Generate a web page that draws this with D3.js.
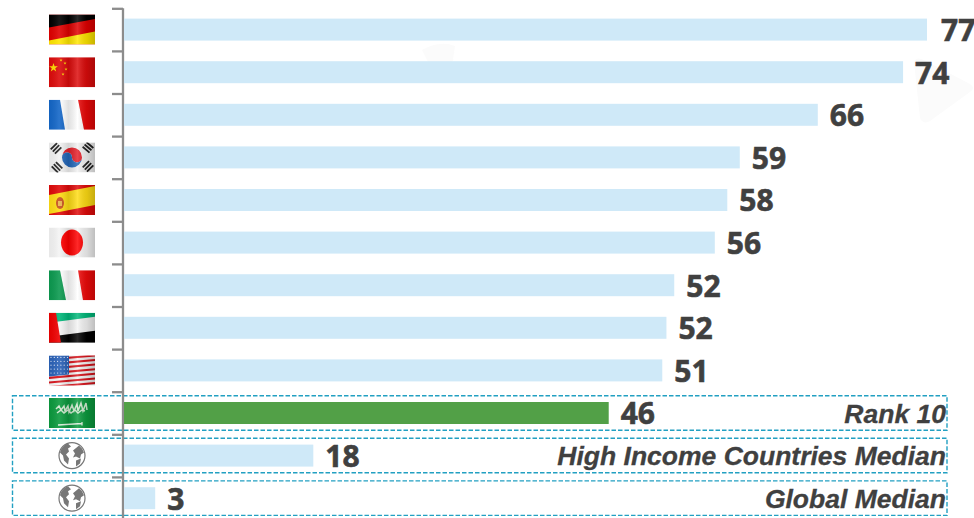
<!DOCTYPE html>
<html><head><meta charset="utf-8">
<script src="https://cdn.jsdelivr.net/npm/d3@7"></script>
<style>html,body{margin:0;padding:0;background:#fff;overflow:hidden}svg{display:block}</style>
</head><body><svg id="c" width="974" height="518"></svg>
<script>
const categories = ["Germany","China","France","South Korea","Spain","Japan","Italy","UAE","United States","Saudi Arabia","High Income Countries Median","Global Median"];
const barValues = [77.2,74.9,66.7,59.2,58.0,56.8,52.9,52.15,51.75,46.6,18.2,3.0];
const valueLabels = [77,74,66,59,58,56,52,52,51,46,18,3];
const highlighted = ["Saudi Arabia","High Income Countries Median","Global Median"];
const rowNotes = {"Saudi Arabia":"Rank 10","High Income Countries Median":"High Income Countries Median","Global Median":"Global Median"};
const flagCodes = ["de","cn","fr","kr","es","jp","it","ae","us","sa","globe","globe"];

const svg = d3.select("#c");
const defs = svg.append("defs");
const x = d3.scaleLinear().domain([0,77.2]).range([124,927]);
const y = d3.scaleBand().domain(categories).range([8.3,519.5]).paddingInner(0.484).paddingOuter(0.242);
const rowCentre = c => y(c)+y.bandwidth()/2;
const idx = d3.scaleLinear().domain([0,12]).range([8.3,519.5]);

const g = defs.append("linearGradient").attr("id","sheen");
[[0,"#000",.05],[.22,"#fff",.1],[.42,"#000",.12],[.62,"#fff",.16],[.82,"#000",.1],[1,"#000",.22]].forEach(s=>
  g.append("stop").attr("offset",s[0]).attr("stop-color",s[1]).attr("stop-opacity",s[2]));
defs.append("clipPath").attr("id","fc").append("rect").attr("width",46).attr("height",30);

["M914 62 Q916 56 924 60 L970 84 Q976 88 970 92 L930 121 Q923 125 920 118 Z",
 "M422 50 Q440 40 455 46 L452 66 L430 66 Z"].forEach(d=>
  svg.append("path").attr("d",d).attr("fill","#fbfbfb"));

svg.append("g").selectAll("rect").data(highlighted).join("rect")
  .attr("x",12.5).attr("width",934.5)
  .attr("y",d=>rowCentre(d)-17.3).attr("height",34.5)
  .attr("fill","none").attr("stroke","#22a0c2").attr("stroke-width",1.4).attr("stroke-dasharray","4.5 2");

const axis = d3.axisLeft(idx).tickValues(d3.range(0,12)).tickFormat("").tickSize(11).tickSizeOuter(0);
const ag = svg.append("g").attr("transform","translate(123,0)").call(axis);
ag.selectAll("path,line").attr("stroke","#8c8c8c").attr("stroke-width",2.3);
ag.select("path").attr("d",`M0,${idx(0)}V518`);

svg.append("g").selectAll("rect").data(categories).join("rect")
  .attr("x",x(0)).attr("y",d=>y(d)).attr("height",y.bandwidth())
  .attr("width",(d,i)=>x(barValues[i])-x(0))
  .attr("fill",d=>d==="Saudi Arabia"?"#52a047":"#cfe9f8");

svg.append("g").selectAll("text").data(categories).join("text")
  .attr("x",(d,i)=>x(barValues[i])+ (i===0?14:12)).attr("y",d=>rowCentre(d)+11.3)
  .attr("font-family","'Open Sans',sans-serif").attr("font-weight",700).attr("font-size",30)
  .attr("fill","#404040").attr("stroke","#404040").attr("stroke-width",.6).text((d,i)=>valueLabels[i]);

svg.append("g").selectAll("text").data(highlighted).join("text")
  .attr("x",946).attr("y",d=>rowCentre(d)+9.5).attr("text-anchor","end")
  .attr("font-family","'Liberation Sans',Arial,sans-serif").attr("font-weight",700).attr("font-style","italic")
  .attr("font-size",26.5).attr("fill","#404040").attr("stroke","#404040").attr("stroke-width",.3).text(d=>rowNotes[d]);

function star(s,cx,cy,r,fill){
  const p=d3.range(10).map(i=>{const a=-Math.PI/2+i*Math.PI/5,q=i%2?r*.4:r;return [cx+q*Math.cos(a),cy+q*Math.sin(a)].join(",")}).join(" ");
  s.append("polygon").attr("points",p).attr("fill",fill);
}
const P=(s,d,f)=>s.append("path").attr("d",d).attr("fill",f);
const flags={
 de(s){P(s,"M0 0H46V30H0Z","#e00000");P(s,"M0 0H46V4.5L0 13Z","#000");P(s,"M0 26L46 17V30H0Z","#ffe600");},
 cn(s){P(s,"M0 0H46V30H0Z","#dd0b0b");star(s,4.5,10.5,4.6,"#ffdc00");[[12,3],[16,6],[17,12],[14,17]].forEach(a=>star(s,a[0],a[1],1.6,"#ffdc00"));},
 fr(s){P(s,"M0 0H46V30H0Z","#fff");P(s,"M0 0H11L16 30H0Z","#1467c8");P(s,"M29 0H46V30H35Z","#e80808");},
 kr(s){P(s,"M0 0H46V30H0Z","#f2f2f2");
   P(s,"M13 15A10 10 0 0 1 33 15A5 5 0 0 1 23 15A5 5 0 0 0 13 15Z","#e5202a");
   P(s,"M13 15A10 10 0 0 0 33 15A5 5 0 0 1 23 15A5 5 0 0 0 13 15Z","#2266b8");
   [[7,6,-45],[39,5,40],[8,25,45],[39,24,-45]].forEach(t=>{
     const k=s.append("g").attr("transform",`translate(${t[0]},${t[1]}) rotate(${t[2]})`);
     [-3,0,3].forEach(o=>k.append("rect").attr("x",-4.5).attr("y",o-.9).attr("width",9).attr("height",1.8).attr("fill","#222"));
   });},
 es(s){P(s,"M0 0H46V30H0Z","#e00a0a");P(s,"M0 10L46 1V20L0 29Z","#ffdc14");
   s.append("ellipse").attr("cx",11).attr("cy",18).attr("rx",4).attr("ry",6).attr("fill","#c8501e");
   s.append("rect").attr("x",9).attr("y",16).attr("width",4).attr("height",5).attr("fill","#e9b44c");},
 jp(s){P(s,"M0 0H46V30H0Z","#f4f4f4");s.append("ellipse").attr("cx",23).attr("cy",15).attr("rx",11).attr("ry",13).attr("fill","#f00");},
 it(s){P(s,"M0 0H46V30H0Z","#fff");P(s,"M0 0H11L17 30H0Z","#0c9a50");P(s,"M29 0H46V30H34Z","#ee0a0a");},
 ae(s){P(s,"M0 0H46V30H0Z","#f4f4f4");P(s,"M0 0H46V4L0 10Z","#00b87a");P(s,"M0 24L46 18V30H0Z","#000");P(s,"M0 0H7L12 30H0Z","#ee0000");},
 us(s){P(s,"M0 0H46V30H0Z","#f4f4f4");
   d3.range(7).forEach(i=>P(s,`M0 ${3+i*4.6}L46 ${-1+i*4.6}V${1+i*4.6}L0 ${5.2+i*4.6}Z`,"#d8141c"));
   P(s,"M0 0H20V19L0 21Z","#2a62b8");
   d3.range(5).forEach(r=>d3.range(6).forEach(c=>s.append("circle").attr("cx",2+c*3.3).attr("cy",2+r*3.9).attr("r",.6).attr("fill","#e8eefc")));},
 sa(s){P(s,"M0 0H46V30H0Z","#0b9a3e");
   s.append("path").attr("d","M7 11l3-3 2 4 3-4 1 5 3-5 1 6 3-7 2 6 3-7 1 7 3-8 2 8 3-8 1 7M8 15l4-3 3 3 4-3 3 3 4-3 3 3 4-3 3 1")
     .attr("fill","none").attr("stroke","#cfe9cf").attr("stroke-width",1.5);
   s.append("path").attr("d","M9 27L33 25.5M33 24v3.5").attr("fill","none").attr("stroke","#dff2df").attr("stroke-width",1.3);}
};
function globe(s){
  s.append("circle").attr("r",13).attr("fill","#fff").attr("stroke","#777").attr("stroke-width",1.2);
  P(s,"M-4 -12C-8 -11 -11 -7 -12 -3L-9 0L-8 5L-4 9L-3 3L-6 -1L-3 -4L-4 -7L-1 -9Z","#777");
  P(s,"M1 -5L7 -10L10 -7L12 -3L9 -1L8 3L4 1L1 2L3 -2Z","#777");
  P(s,"M4 5L9 3L8 8L4 11Z","#777");
}
const fg=svg.append("g");
categories.forEach((c,i)=>{
  const code=flagCodes[i];
  if(code==="globe"){
    globe(fg.append("g").attr("transform",`translate(72,${rowCentre(c)})`));
  } else {
    const h=fg.append("g").attr("transform",`translate(49,${rowCentre(c)-15})`).attr("clip-path","url(#fc)");
    flags[code](h);
    h.append("rect").attr("width",46).attr("height",30).attr("fill","url(#sheen)");
  }
});
</script></body></html>
